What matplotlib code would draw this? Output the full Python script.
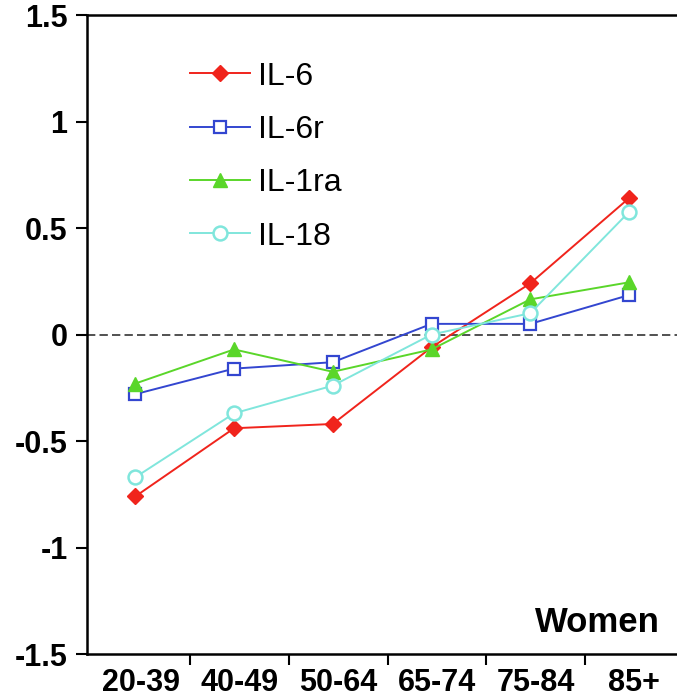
import numpy as np
import matplotlib.pyplot as plt

plt.rcParams['font.family'] = ['Liberation Sans', 'DejaVu Sans']

age_groups = ["20-39", "40-49", "50-64", "65-74", "75-84", "85+"]
il6 = [-0.76, -0.44, -0.42, -0.06, 0.24, 0.64]
il6r = [-0.28, -0.16, -0.13, 0.05, 0.05, 0.185]
il1ra = [-0.23, -0.07, -0.175, -0.07, 0.165, 0.245]
il18 = [-0.67, -0.37, -0.24, 0.0, 0.10, 0.575]

fig = plt.figure(figsize=(6.77, 6.98), dpi=100)
ax = fig.add_axes([0.1285, 0.063, 0.88, 0.9155])

x = np.arange(len(age_groups)) + 0.445

ax.axhline(0, color="#333333", lw=1.2, ls=(0, (5, 2.5)), zorder=1)

ax.plot(x, il6, color="#f0241c", lw=1.4, marker="D", ms=8,
        mfc="#f0241c", mec="#f0241c", label="IL-6", zorder=3)
ax.plot(x, il6r, color="#3346d0", lw=1.4, marker="s", ms=9,
        mfc="white", mec="#3346d0", mew=1.6, label="IL-6r", zorder=3)
ax.plot(x, il1ra, color="#5ad62a", lw=1.4, marker="^", ms=10,
        mfc="#5ad62a", mec="#5ad62a", label="IL-1ra", zorder=3)
ax.plot(x, il18, color="#80e6dc", lw=1.4, marker="o", ms=10,
        mfc="white", mec="#80e6dc", mew=1.8, label="IL-18", zorder=3)

ax.set_xlim(-0.045, 5.99)
ax.set_ylim(-1.5, 1.5)
ax.set_yticks([-1.5, -1, -0.5, 0, 0.5, 1, 1.5])
ax.set_yticklabels(["-1.5", "-1", "-0.5", "0", "0.5", "1", "1.5"])
ax.set_xticks(np.arange(1, 6))
ax.set_xticklabels([])
ax.set_xticks(np.arange(len(age_groups)) + 0.5, minor=True)
ax.set_xticklabels(age_groups, minor=True)
ax.tick_params(axis="x", which="minor", length=0, pad=10)
ax.tick_params(axis="x", which="major", length=8, width=1.5, direction="out")
ax.tick_params(axis="y", length=8, width=1.5, direction="out", pad=6)
for lab in ax.get_xticklabels(minor=True) + ax.get_yticklabels():
    lab.set_fontsize(22)
    lab.set_fontweight("bold")

ax.spines["right"].set_visible(False)
for s in ["left", "bottom", "top"]:
    ax.spines[s].set_linewidth(1.8)

ax.text(0.961, 0.034, "Women", transform=ax.transAxes, ha="right",
        va="baseline", fontsize=25, fontweight="bold")

ax.legend(loc="upper left", bbox_to_anchor=(0.151, 0.947), borderaxespad=0,
          frameon=False, fontsize=23, handlelength=1.9, handletextpad=0.25,
          labelspacing=0.73)

fig.savefig("out.png", dpi=100)
